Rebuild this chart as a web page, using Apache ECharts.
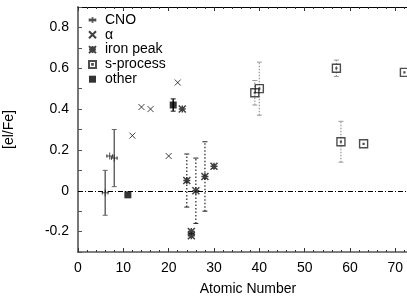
<!DOCTYPE html>
<html>
<head>
<meta charset="utf-8">
<script src="https://cdn.jsdelivr.net/npm/echarts@6/dist/echarts.min.js"></script>
<style>
  html, body { margin: 0; padding: 0; background: #fff; }
  #chart { width: 407px; height: 296px; }
</style>
</head>
<body>
<div id="chart"></div>
<script>
// abundances
var cnoX = [6, 7, 8];
var cnoY = [-0.01, 0.17, 0.16];
var cnoLo = [-0.12, null, 0.02];
var cnoHi = [0.10, null, 0.30];

var alphaX = [12, 14, 16, 20, 22];
var alphaY = [0.27, 0.41, 0.40, 0.17, 0.53];

var ironX = [23, 24, 25, 25, 26, 28, 30];
var ironY = [0.40, 0.05, -0.20, -0.22, 0.00, 0.07, 0.12];
var ironLo = [null, -0.08, null, null, -0.16, -0.10, null];
var ironHi = [null, 0.18, null, null, 0.16, 0.24, null];

var sX = [39, 40, 57, 58, 63, 72];
var sY = [0.48, 0.50, 0.60, 0.24, 0.23, 0.58];
var sLo = [0.42, 0.37, 0.56, 0.14, null, null];
var sHi = [0.54, 0.63, 0.64, 0.34, null, null];

var otherX = [11, 21];
var otherY = [-0.02, 0.42];
var otherLo = [null, 0.39];
var otherHi = [null, 0.45];

var yTicks = ['-0.2', '0', '0.2', '0.4', '0.6', '0.8'];

function pts(xs, ys) {
  return xs.map(function (x, i) { return [x, ys[i]]; });
}
function bars(xs, lo, hi) {
  var out = [];
  xs.forEach(function (x, i) {
    if (lo[i] != null) out.push([x, lo[i], hi[i]]);
  });
  return out;
}
function errSeries(data, color, dash, width) {
  return {
    type: 'custom',
    silent: true,
    z: 1,
    renderItem: function (params, api) {
      var x = api.value(0);
      var a = api.coord([x, api.value(1)]);
      var b = api.coord([x, api.value(2)]);
      var c = 2.5;
      var st = { stroke: color, lineWidth: width, lineDash: dash };
      return {
        type: 'group',
        children: [
          { type: 'line', shape: { x1: a[0], y1: a[1], x2: b[0], y2: b[1] }, style: st },
          { type: 'line', shape: { x1: a[0] - c, y1: a[1], x2: a[0] + c, y2: a[1] }, style: { stroke: color, lineWidth: 1 } },
          { type: 'line', shape: { x1: b[0] - c, y1: b[1], x2: b[0] + c, y2: b[1] }, style: { stroke: color, lineWidth: 1 } }
        ]
      };
    },
    encode: { x: 0, y: [1, 2] },
    data: data
  };
}

var font = '"Liberation Sans", Arial, sans-serif';
var chart = echarts.init(document.getElementById('chart'), null, { renderer: 'canvas' });

chart.setOption({
  animation: false,
  textStyle: { fontFamily: font },
  grid: { left: 78, right: -11, top: 7, bottom: 44, containLabel: false, outerBoundsMode: 'none' },
  legend: {
    orient: 'vertical',
    left: 88,
    top: 13,
    itemWidth: 7,
    itemHeight: 7,
    itemGap: 0.8,
    padding: 0,
    textStyle: { fontSize: 14, color: '#000', lineHeight: 14, fontFamily: font, padding: [0, 0, 0, 4] },
    data: ['CNO', 'α', 'iron peak', 's-process', 'other']
  },
  xAxis: [{
    type: 'value',
    min: 0,
    max: 75,
    interval: 10,
    name: 'Atomic Number',
    nameLocation: 'middle',
    nameGap: 30,
    nameTextStyle: { fontSize: 14, color: '#000', fontFamily: font },
    axisLine: { onZero: false, lineStyle: { color: '#555', width: 1.5 } },
    axisTick: { inside: true, length: 4, lineStyle: { color: '#333' } },
    minorTick: { show: true, splitNumber: 5, length: 2, lineStyle: { color: '#333' } },
    axisLabel: { fontSize: 14, color: '#000', margin: 9, showMaxLabel: false, fontFamily: font },
    splitLine: { show: false }
  }, {
    type: 'value',
    position: 'top',
    min: 0,
    max: 75,
    interval: 10,
    axisLine: { onZero: false, lineStyle: { color: '#000', width: 1 } },
    axisTick: { inside: true, length: 4, lineStyle: { color: '#333' } },
    minorTick: { show: true, splitNumber: 5, length: 2, lineStyle: { color: '#333' } },
    axisLabel: { show: false },
    splitLine: { show: false }
  }],
  yAxis: {
    type: 'value',
    min: -0.3,
    max: 0.9,
    interval: 0.1,
    name: '[el/Fe]',
    nameLocation: 'middle',
    nameGap: 62,
    nameTextStyle: { fontSize: 14, color: '#000', fontFamily: font },
    axisLine: { onZero: false, lineStyle: { color: '#777', width: 2 } },
    axisTick: { inside: true, length: 4, lineStyle: { color: '#555' } },
    axisLabel: {
      fontSize: 14, color: '#000', margin: 9, fontFamily: font,
      formatter: function (v) {
        var s = String(Math.round(v * 10) / 10);
        return yTicks.indexOf(s) >= 0 ? s : '';
      }
    },
    splitLine: { show: false }
  },
  series: [
    errSeries(bars(cnoX, cnoLo, cnoHi), '#666', null, 1.5),
    errSeries(bars(ironX, ironLo, ironHi), '#222', [1.5, 2], 1.2),
    errSeries(bars(sX, sLo, sHi), '#999', [1.5, 1.5], 1.2),
    errSeries(bars(otherX, otherLo, otherHi), '#111', null, 1.5),
    {
      name: 'CNO',
      type: 'scatter',
      symbol: 'path://M0,5L10,5M5,1L5,9M1,3L1,7M9,3L9,7',
      symbolSize: 7,
      itemStyle: { color: 'rgba(0,0,0,0)', borderColor: '#222', borderWidth: 1 },
      data: pts(cnoX, cnoY),
      markLine: {
        silent: true,
        symbol: 'none',
        label: { show: false },
        lineStyle: { color: '#000', width: 1, type: [5, 2, 1, 2] },
        data: [{ yAxis: 0 }]
      }
    },
    {
      name: 'α',
      type: 'scatter',
      symbol: 'path://M0,0L10,10M10,0L0,10',
      symbolSize: 6,
      itemStyle: { color: 'rgba(0,0,0,0)', borderColor: '#111', borderWidth: 1 },
      data: pts(alphaX, alphaY)
    },
    {
      name: 'iron peak',
      type: 'scatter',
      symbol: 'path://M0,0L10,10M10,0L0,10M5,0L5,10M0,5L10,5',
      symbolSize: 7,
      itemStyle: { color: 'rgba(0,0,0,0)', borderColor: '#111', borderWidth: 1.5 },
      data: pts(ironX, ironY)
    },
    {
      name: 's-process',
      type: 'scatter',
      symbol: 'path://M0,0L10,0L10,10L0,10Z M4.5,4.5L5.5,4.5L5.5,5.5L4.5,5.5Z',
      symbolSize: 8,
      itemStyle: { color: 'rgba(0,0,0,0)', borderColor: '#222', borderWidth: 1.4 },
      data: pts(sX, sY)
    },
    {
      name: 'other',
      type: 'scatter',
      symbol: 'rect',
      symbolSize: 7,
      itemStyle: { color: '#000' },
      data: pts(otherX, otherY)
    }
  ]
});
</script>
</body>
</html>
